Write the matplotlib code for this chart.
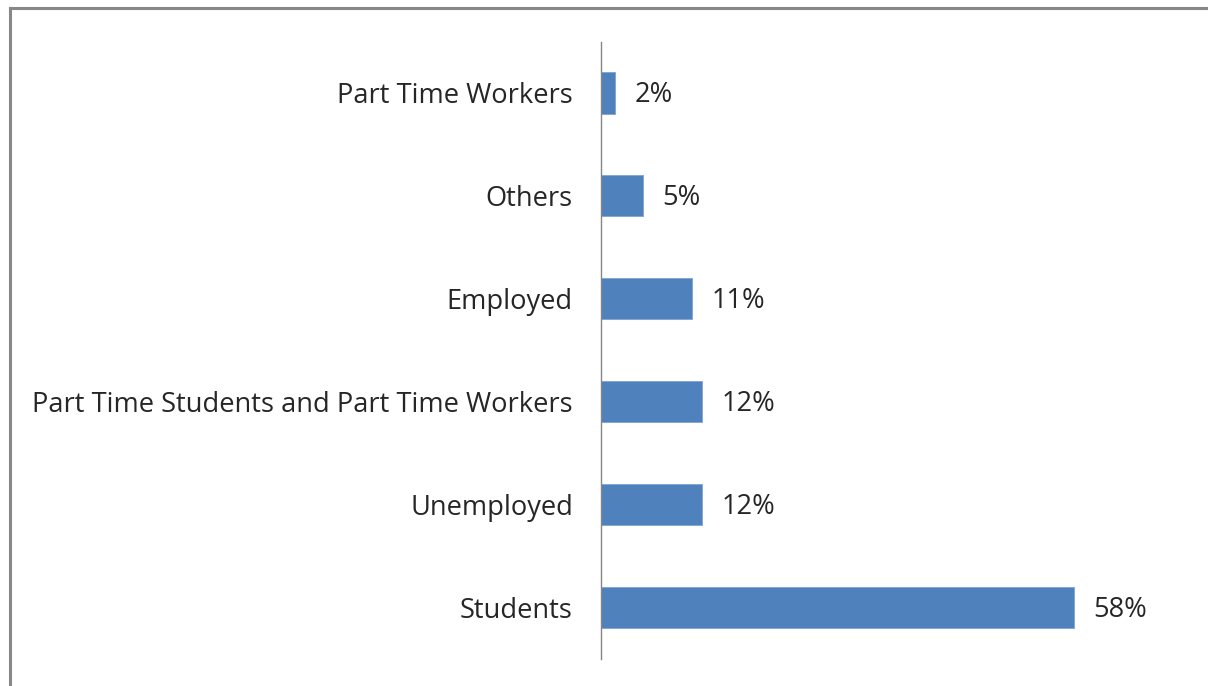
import matplotlib.pyplot as plt

# categories top to bottom in the picture, bars drawn bottom-up
categories = ["Students", "Unemployed", "Part Time Students and Part Time Workers",
              "Employed", "Others", "Part Time Workers"]
shares = [58.0, 12.45, 12.45, 11.15, 5.15, 1.75]

W, H = 1208, 686
fig = plt.figure(figsize=(W / 100, H / 100), dpi=100)
plt.rcParams['font.family'] = ['Open Sans', 'DejaVu Sans']

# chart frame (only the top and left edges show in the picture)
fig.add_artist(plt.Line2D([9.5 / W, 9.5 / W], [0, 1 - 7.5 / H], color='#878787', lw=2.2))
fig.add_artist(plt.Line2D([9.5 / W, 1], [1 - 7.5 / H, 1 - 7.5 / H], color='#878787', lw=2.2))

left, right = 600.7, 1172.0
top, bottom = 41.5, 659.0
ax = fig.add_axes([left / W, 1 - bottom / H, (right - left) / W, (bottom - top) / H])

y = range(len(categories))
bars = ax.barh(y, shares, height=0.40, color='#4F81BD', edgecolor='#7FA3D3', linewidth=0.6)
ax.set_xlim(0, 70)
ax.set_ylim(-0.5, len(categories) - 0.5)

ax.set_yticks(list(y))
ax.set_yticklabels(categories, fontsize=19.6, color='#262626')
ax.tick_params(axis='y', length=0, pad=20)
ax.set_xticks([])

for s in ['top', 'right', 'bottom']:
    ax.spines[s].set_visible(False)
ax.spines['left'].set_color('#868686')
ax.spines['left'].set_linewidth(1.0)

for b, v in zip(bars, shares):
    ax.annotate(f"{v:.0f}%", (b.get_width(), b.get_y() + b.get_height() / 2),
                xytext=(14, -1.5), textcoords='offset points', va='center', ha='left',
                fontsize=19.6, color='#262626')

fig.savefig('out.png', dpi=100, facecolor='white')
